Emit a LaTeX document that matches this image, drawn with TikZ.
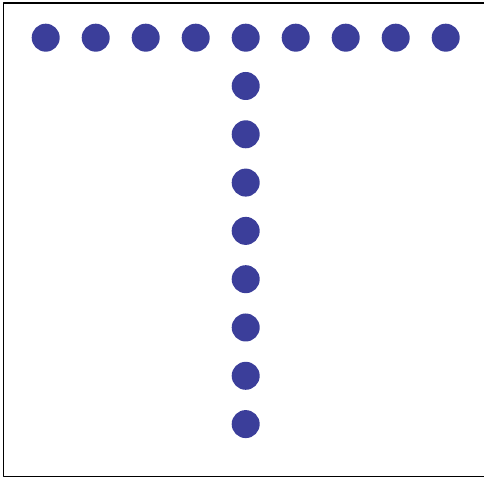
\documentclass[tikz,border=0pt]{standalone}
\usepackage{xcolor}
\usepackage{tikz}
\definecolor{dotblue}{HTML}{3B3E9A}
\tikzset{
    every picture/.style={line cap=round,line join=round},
    tdot/.style={circle,fill=dotblue,draw=none,minimum size=28pt,inner sep=0pt},
    frameline/.style={draw=black,line width=1.6pt,line cap=butt}
}
\begin{document}
\begin{tikzpicture}[x=1pt,y=1pt]
  \useasboundingbox (0,0) rectangle (484,478);
  % open frame: top, left and bottom sides
  \draw[frameline] (484,475) -- (3.5,475) -- (3.5,1.5) -- (484,1.5);

  % top bar of the T
  \foreach \i in {0,...,8}
    \node[tdot] (top\i) at ({45.7+50*\i},440.3) {};

  % stem of the T
  \foreach \j in {1,...,8}
    \node[tdot] (stem\j) at (245.7,{440.3-48.3*\j}) {};
\end{tikzpicture}
\end{document}
